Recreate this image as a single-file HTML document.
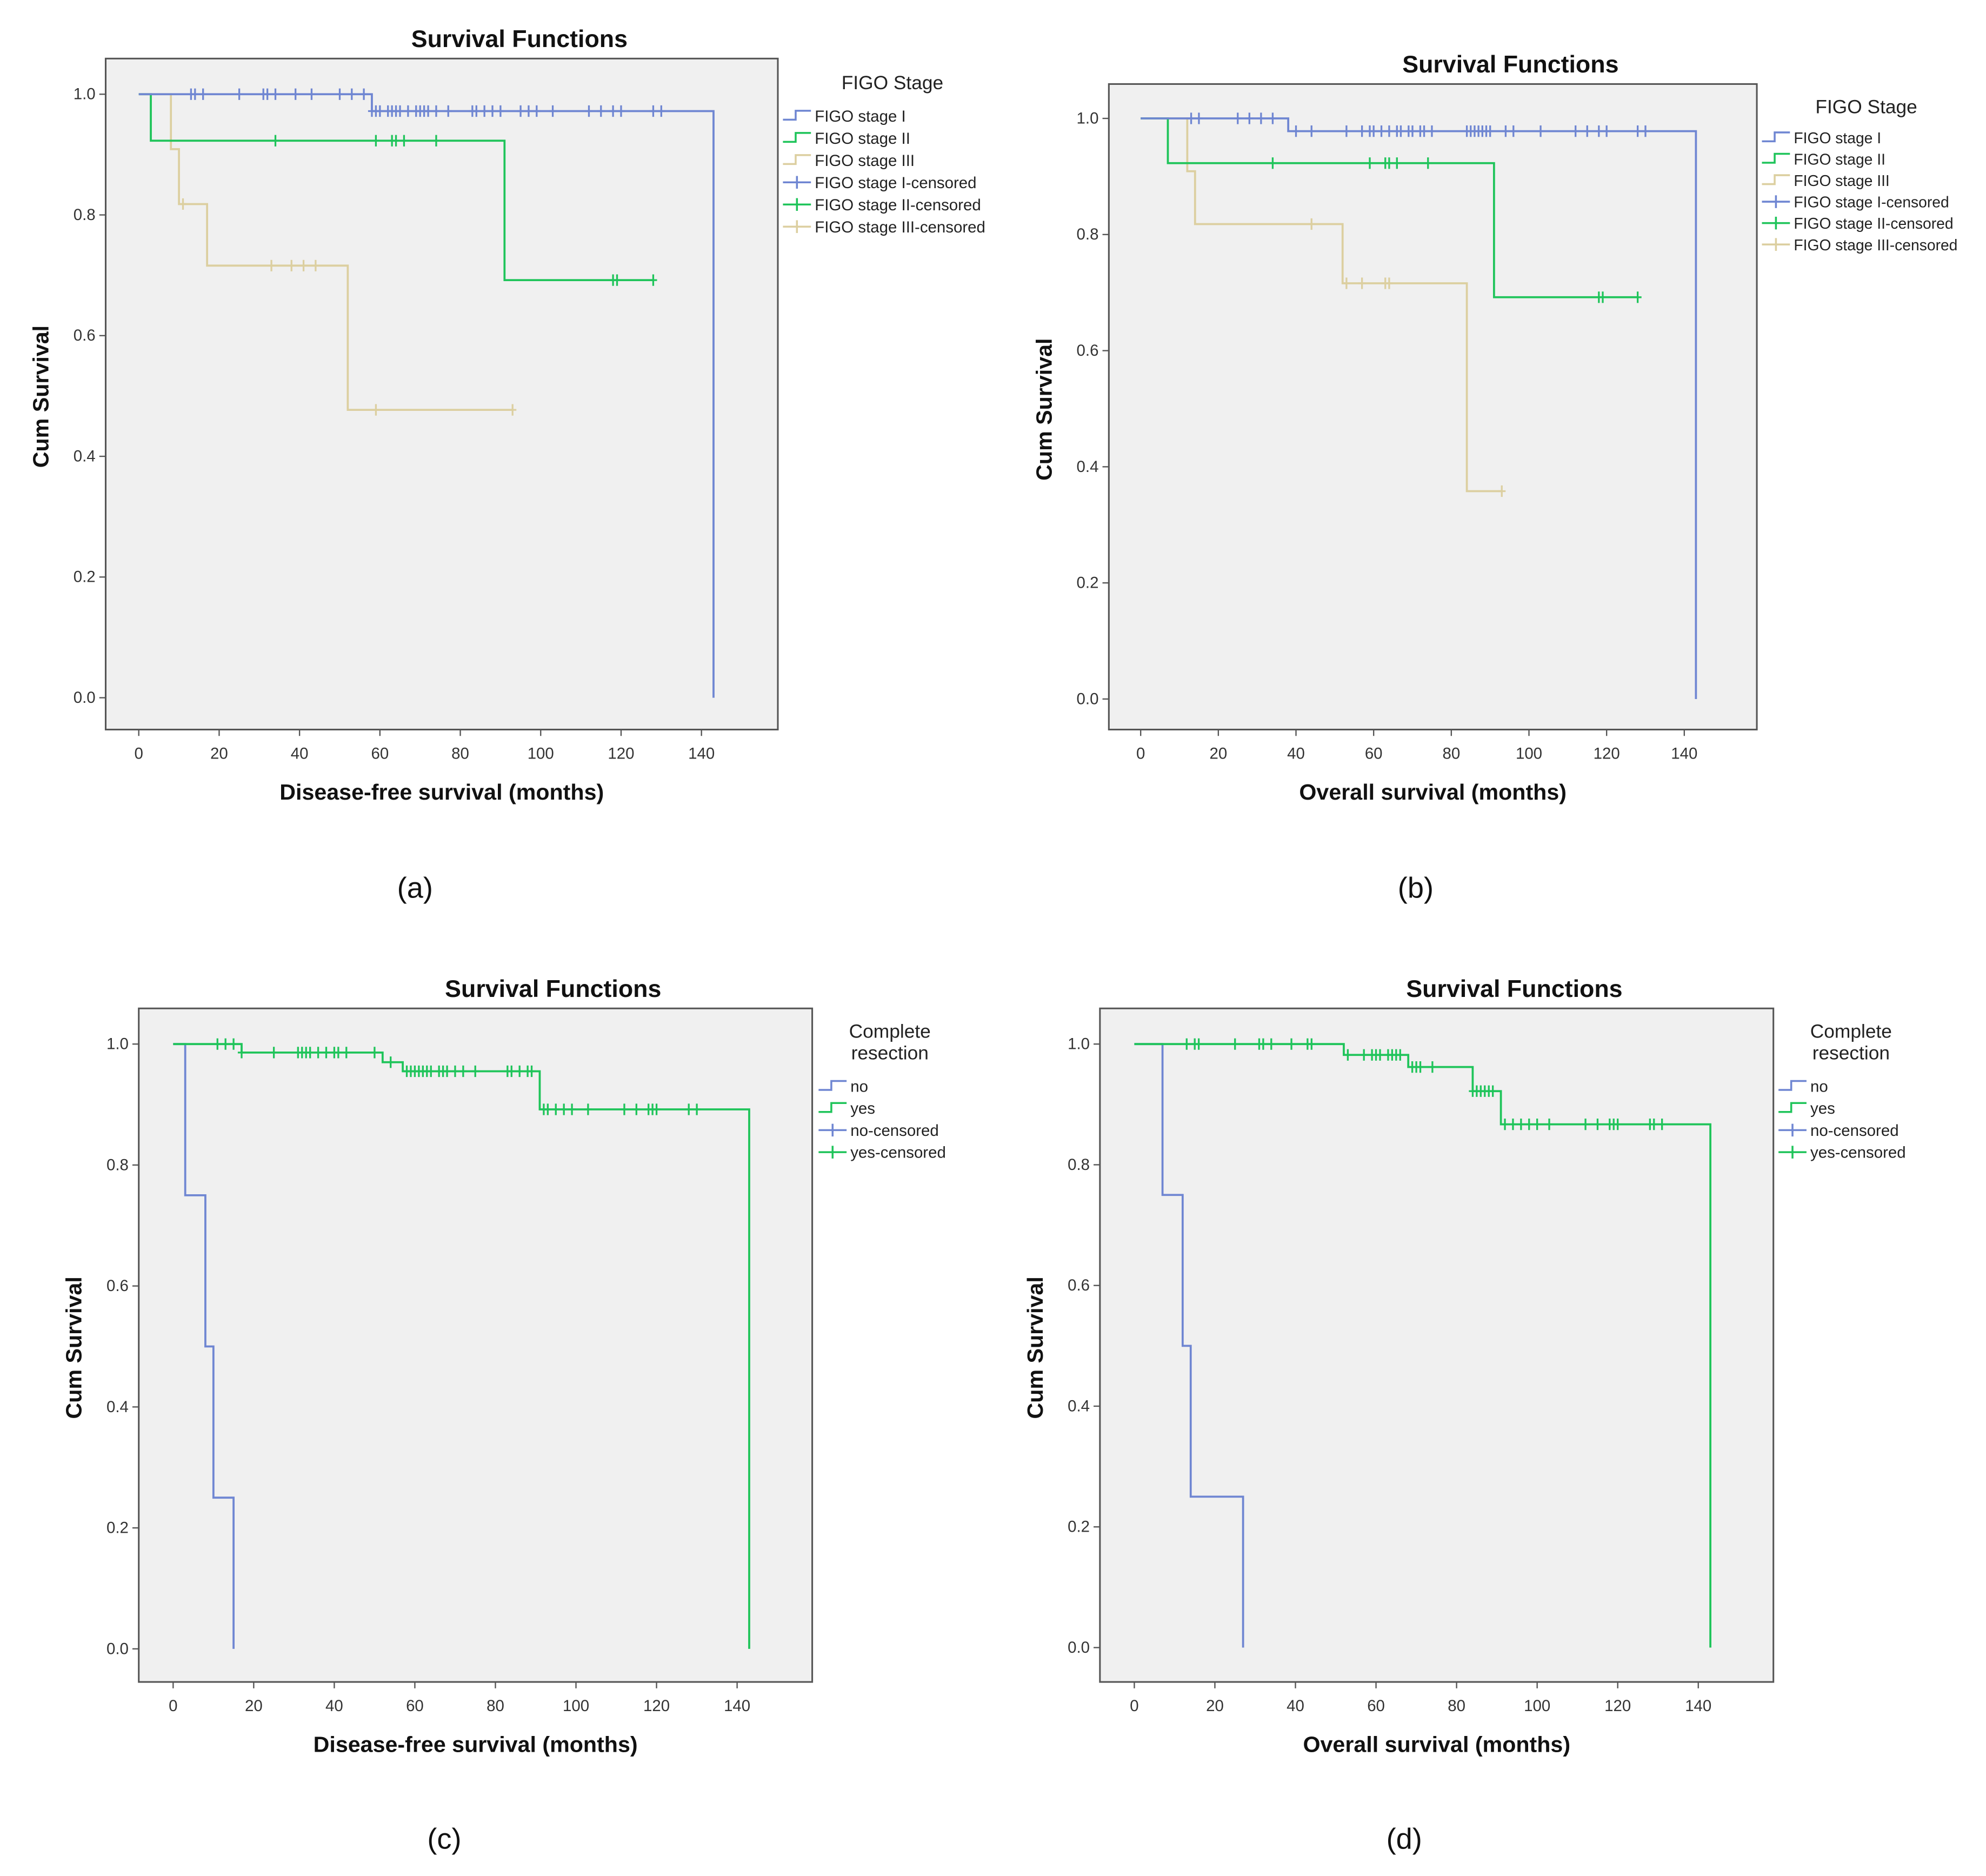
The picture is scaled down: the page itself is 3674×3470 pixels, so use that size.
<!DOCTYPE html>
<html><head><meta charset="utf-8"><style>
html,body{margin:0;padding:0;background:#fff;}
svg{display:block;font-family:"Liberation Sans",Arial,sans-serif;}
</style></head><body>
<svg id="fig" width="3674" height="3470" viewBox="0 0 1560 1473.4" preserveAspectRatio="none" xmlns="http://www.w3.org/2000/svg"></svg>
<script>
// ---------- data ----------
const xTicks = [0,20,40,60,80,100,120,140];
const yTicks = [0.0,0.2,0.4,0.6,0.8,1.0];
const yTickLabels = ["0.0","0.2","0.4","0.6","0.8","1.0"];
const panelCaptions = ["(a)","(b)","(c)","(d)"];
const xAxisTitles = ["Disease-free survival (months)","Overall survival (months)","Disease-free survival (months)","Overall survival (months)"];
const legendNamesA = ["FIGO stage I","FIGO stage II","FIGO stage III","FIGO stage I-censored","FIGO stage II-censored","FIGO stage III-censored"];
const legendNamesC = ["no","yes","no-censored","yes-censored"];

// (a) DFS by FIGO stage
const aS1Times = [0,58,143];  const aS1Surv = [1.0,0.972,0.0];
const aS1CensT = [13,14,16,25,31,32,34,39,43,50,53,56,58,59,60,62,63,64,65,67,69,70,71,72,74,77,83,84,86,88,90,95,97,99,103,112,115,118,120,128,130];
const aS2Times = [0,3,91];   const aS2Surv = [1.0,0.923,0.692]; const aS2End = 128;
const aS2CensT = [34,59,63,64,66,74,118,119,128];
const aS3Times = [0,8,10,17,52]; const aS3Surv = [1.0,0.909,0.818,0.716,0.477]; const aS3End = 93;
const aS3CensT = [11,33,38,41,44,59,93];

// (b) OS by FIGO stage
const bS1Times = [0,38,143]; const bS1Surv = [1.0,0.978,0.0];
const bS1CensT = [13,15,25,28,31,34,40,44,53,57,59,60,62,64,66,67,69,70,72,73,75,84,85,86,87,88,89,90,94,96,103,112,115,118,120,128,130];
const bS2Times = [0,7,91]; const bS2Surv = [1.0,0.923,0.692]; const bS2End = 128;
const bS2CensT = [34,59,63,64,66,74,118,119,128];
const bS3Times = [0,12,14,52,84]; const bS3Surv = [1.0,0.909,0.818,0.716,0.358]; const bS3End = 93;
const bS3CensT = [44,53,57,63,64,93];

// (c) DFS by complete resection
const cNoTimes = [0,3,8,10,15]; const cNoSurv = [1.0,0.75,0.5,0.25,0.0];
const cYesTimes = [0,17,52,57,91,143]; const cYesSurv = [1.0,0.986,0.97,0.955,0.892,0.0];
const cYesCensT = [11,13,15,17,25,31,32,33,34,36,38,40,41,43,50,54,58,59,60,61,62,63,64,66,67,68,70,72,75,83,84,86,88,89,92,93,95,97,99,103,112,115,118,119,120,128,130];

// (d) OS by complete resection
const dNoTimes = [0,7,12,14,27]; const dNoSurv = [1.0,0.75,0.5,0.25,0.0];
const dYesTimes = [0,52,68,84,91,143]; const dYesSurv = [1.0,0.982,0.962,0.922,0.867,0.0];
const dYesCensT = [13,15,16,25,31,32,34,39,43,44,53,57,59,60,61,63,64,65,66,69,70,71,74,84,85,86,87,88,89,92,94,96,98,100,103,112,115,118,119,120,128,129,131];

// ---------- drawing ----------
const BLUE="#6f86d2", GREEN="#1fc45a", BEIGE="#dccfa0";
const svg=document.getElementById('fig');
const NS="http://www.w3.org/2000/svg";
function mk(tag,attrs,parent,text){const e=document.createElementNS(NS,tag);for(const k in attrs)e.setAttribute(k,attrs[k]);if(text!==undefined)e.textContent=text;(parent||svg).appendChild(e);return e;}

function survAt(times,surv,t){let s=surv[0];for(let i=0;i<times.length;i++){if(times[i]<=t)s=surv[i];}return s;}

function panel(cfg){
  const g=mk('g',{});
  
  
  const xs=t=>cfg.x0+(cfg.x140-cfg.x0)*t/140;
  const ys=v=>cfg.y0+(cfg.y1-cfg.y0)*v;
  const box=mk('rect',{x:cfg.bx,y:cfg.by,width:cfg.bw,height:cfg.bh,fill:"#f0f0f0",stroke:"#555","stroke-width":1.3},g);
  
  
  const tt=mk('text',{x:cfg.bx+cfg.bw/2+61,y:cfg.by-9,'text-anchor':'middle','font-size':19,'font-weight':'bold',fill:'#111'},g,"Survival Functions");
  
  
  xTicks.forEach(t=>{
    const x=xs(t);
    mk('line',{x1:x,x2:x,y1:cfg.by+cfg.bh,y2:cfg.by+cfg.bh+5,stroke:'#555'},g);
    const l=mk('text',{x:x,y:cfg.by+cfg.bh+23,'text-anchor':'middle','font-size':12.5,fill:'#333'},g,String(t));
    
    
  });
  yTicks.forEach((v,i)=>{
    const y=ys(v);
    mk('line',{x1:cfg.bx-5,x2:cfg.bx,y1:y,y2:y,stroke:'#555'},g);
    const l=mk('text',{x:cfg.bx-8,y:y+4,'text-anchor':'end','font-size':12.5,fill:'#333'},g,yTickLabels[i]);
    
    
  });
  const xt=mk('text',{x:cfg.bx+cfg.bw/2,y:cfg.by+cfg.bh+55,'text-anchor':'middle','font-size':17.5,'font-weight':'bold',fill:'#111'},g,xAxisTitles[cfg.idx]);
  
  
  const yx=cfg.bx-45, yy=cfg.by+cfg.bh/2+2;
  const yt=mk('text',{x:yx,y:yy,'text-anchor':'middle','font-size':17.5,'font-weight':'bold',fill:'#111',transform:`rotate(-90 ${yx} ${yy})`},g,"Cum Survival");
  
  
  const cap=mk('text',{x:cfg.capX,y:cfg.capY,'text-anchor':'middle','font-size':23,fill:'#111'},g,panelCaptions[cfg.idx]);
  
  

  cfg.series.forEach(s=>{
    let d=`M${xs(s.times[0])},${ys(s.surv[0])}`;
    for(let i=1;i<s.times.length;i++){d+=` H${xs(s.times[i])} V${ys(s.surv[i])}`;}
    if(s.end!==undefined)d+=` H${xs(s.end)}`;
    const p=mk('path',{d:d,fill:'none',stroke:s.color,'stroke-width':1.6},g);
    
    
    (s.cens||[]).forEach(t=>{
      const x=xs(t), y=ys(survAt(s.times,s.surv,t));
      const c=mk('path',{d:`M${x},${y-4.5} V${y+4.5} M${x-3},${y} H${x+3}`,stroke:s.color,'stroke-width':1.4},g);
      
      
    });
  });

  const lg=mk('g',{},g);
  
  
  cfg.legendTitle.forEach((t,i)=>mk('text',{x:cfg.ltx,y:cfg.lty+i*17,'text-anchor':'middle','font-size':cfg.ltSize,fill:'#222'},lg,t));
  cfg.legendNames.forEach((n,i)=>{
    const y=cfg.ly0+i*cfg.ldy, x=cfg.lsx, col=cfg.legendColors[i];
    if(i<cfg.legendNames.length/2){
      mk('path',{d:`M${x},${y+3} H${x+10} V${y-4} H${x+22}`,fill:'none',stroke:col,'stroke-width':1.5},lg);
    } else {
      mk('path',{d:`M${x},${y} H${x+22} M${x+11},${y-5} V${y+5}`,stroke:col,'stroke-width':1.5},lg);
    }
    const e=mk('text',{x:x+25,y:y+4.5,'font-size':cfg.lfs,fill:'#222'},lg,n);
    
    
  });
}

const figoColors=[BLUE,GREEN,BEIGE,BLUE,GREEN,BEIGE];
const resColors=[BLUE,GREEN,BLUE,GREEN];

panel({id:'a',idx:0,bx:83,by:46,bw:528,bh:527,x0:109,x140:551,y0:548,y1:74,capX:326,capY:705,
  series:[
    {name:'stage-iii',color:BEIGE,times:aS3Times,surv:aS3Surv,end:aS3End,cens:aS3CensT},
    {name:'stage-ii',color:GREEN,times:aS2Times,surv:aS2Surv,end:aS2End,cens:aS2CensT},
    {name:'stage-i',color:BLUE,times:aS1Times,surv:aS1Surv,cens:aS1CensT}],
  legendTitle:["FIGO Stage"],ltx:701,lty:70,ltSize:15,legendNames:legendNamesA,legendColors:figoColors,ly0:91,ldy:17.4,lsx:615,lfs:12.5});

panel({id:'b',idx:1,bx:871,by:66,bw:509,bh:507,x0:896,x140:1323,y0:549,y1:93,capX:1112,capY:705,
  series:[
    {name:'stage-iii',color:BEIGE,times:bS3Times,surv:bS3Surv,end:bS3End,cens:bS3CensT},
    {name:'stage-ii',color:GREEN,times:bS2Times,surv:bS2Surv,end:bS2End,cens:bS2CensT},
    {name:'stage-i',color:BLUE,times:bS1Times,surv:bS1Surv,cens:bS1CensT}],
  legendTitle:["FIGO Stage"],ltx:1466,lty:89,ltSize:15,legendNames:legendNamesA,legendColors:figoColors,ly0:108,ldy:16.8,lsx:1384,lfs:12});

panel({id:'c',idx:2,bx:109,by:792,bw:529,bh:529,x0:136,x140:579,y0:1295,y1:820,capX:349,capY:1452,
  series:[
    {name:'no',color:BLUE,times:cNoTimes,surv:cNoSurv,cens:[]},
    {name:'yes',color:GREEN,times:cYesTimes,surv:cYesSurv,cens:cYesCensT}],
  legendTitle:["Complete","resection"],ltx:699,lty:815,ltSize:15,legendNames:legendNamesC,legendColors:resColors,ly0:853,ldy:17.3,lsx:643,lfs:12.5});

panel({id:'d',idx:3,bx:864,by:792,bw:529,bh:529,x0:891,x140:1334,y0:1294,y1:820,capX:1103,capY:1452,
  series:[
    {name:'no',color:BLUE,times:dNoTimes,surv:dNoSurv,cens:[]},
    {name:'yes',color:GREEN,times:dYesTimes,surv:dYesSurv,cens:dYesCensT}],
  legendTitle:["Complete","resection"],ltx:1454,lty:815,ltSize:15,legendNames:legendNamesC,legendColors:resColors,ly0:853,ldy:17.3,lsx:1397,lfs:12.5});
</script>
</body></html>
